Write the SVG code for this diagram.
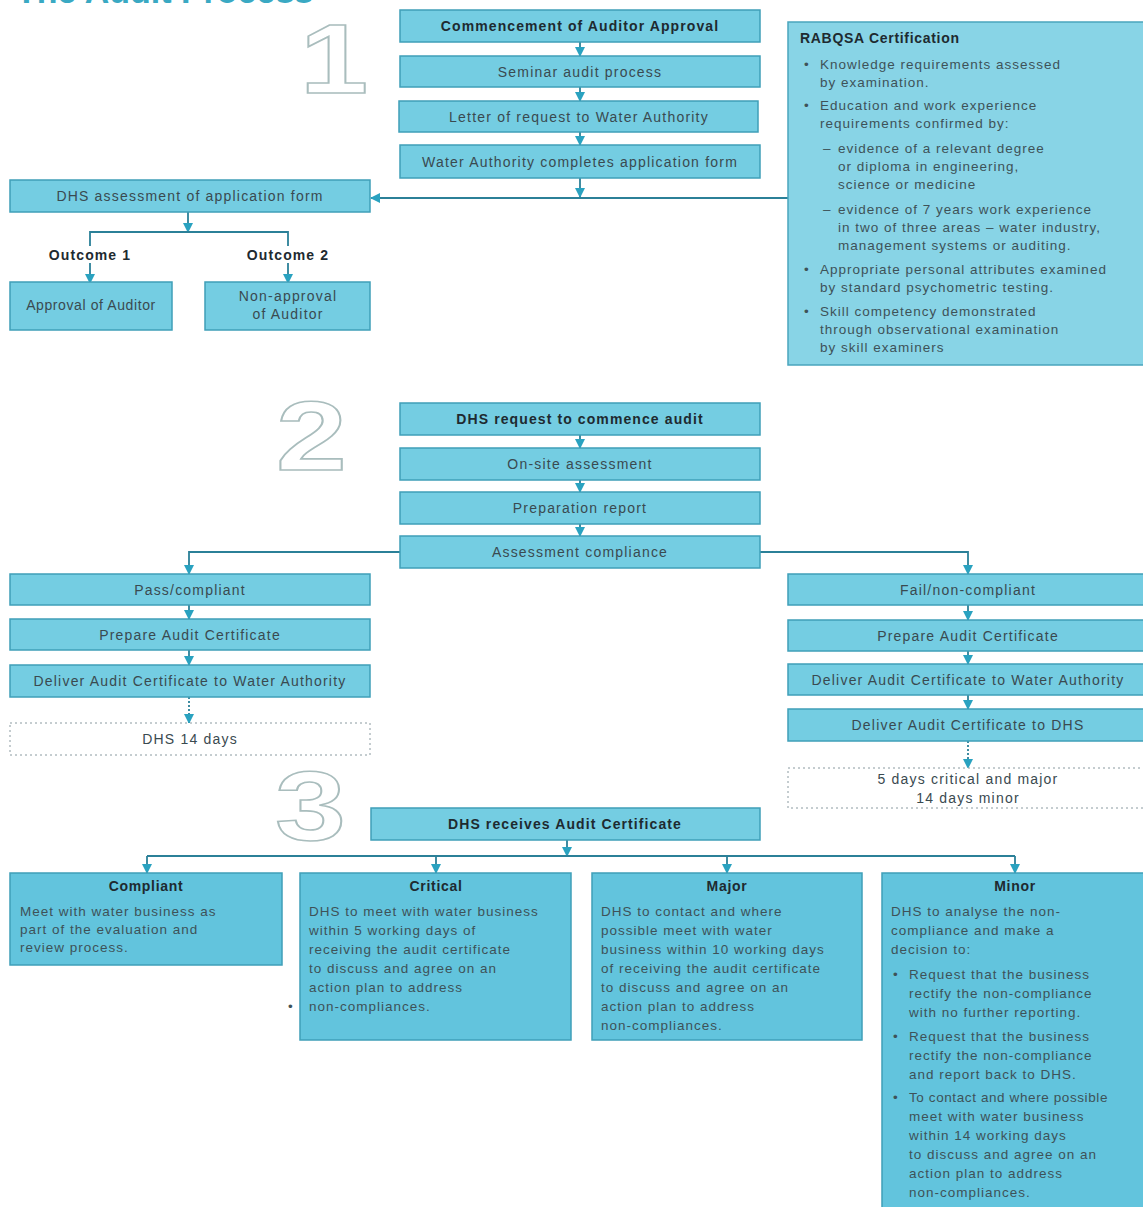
<svg xmlns="http://www.w3.org/2000/svg" width="1143" height="1207" viewBox="0 0 1143 1207">
<style>
  .bg{fill:#ffffff}
  .box{fill:#74cde2;stroke:#3f9fb8;stroke-width:1.5}
  .box3{fill:#62c4dd;stroke:#3f9fb8;stroke-width:1.5}
  .info{fill:#88d4e6;stroke:#4aa5bd;stroke-width:1.5}
  .note{fill:#ffffff;stroke:#8a9aa0;stroke-width:1;stroke-dasharray:2 3}
  .lbl{font-family:"Liberation Sans",Arial,sans-serif;font-size:14px;fill:#3a4a50;letter-spacing:1.2px;text-anchor:middle}
  .bold{font-weight:bold;fill:#1e2a30;letter-spacing:1.1px}
  .txt{font-family:"Liberation Sans",Arial,sans-serif;font-size:13.5px;fill:#3e5258;letter-spacing:1px}
  .hd{font-family:"Liberation Sans",Arial,sans-serif;font-size:14px;font-weight:bold;fill:#1e2a30;letter-spacing:0.7px}
  .num{font-family:"Liberation Sans",Arial,sans-serif;font-size:98px;font-weight:bold;fill:#ffffff;stroke:#a9bdbd;stroke-width:1.6}
  .title{font-family:"Liberation Sans",Arial,sans-serif;font-size:34px;font-weight:bold;fill:#3aa9c3}
  .line{fill:none;stroke:#2b8098;stroke-width:1.8}
  .arr{fill:none;stroke:#2b8098;stroke-width:1.8;marker-end:url(#ah)}
  .dot{fill:none;stroke:#2b8098;stroke-width:1.8;stroke-dasharray:2 2;marker-end:url(#ah)}
</style>
<defs>
  <marker id="ah" markerUnits="userSpaceOnUse" markerWidth="10" markerHeight="10" refX="9" refY="5" orient="auto">
    <path d="M0,0 L10,5 L0,10 z" fill="#2aa2c0"/>
  </marker>
</defs>
<rect class="bg" x="0" y="0" width="1143" height="1207"/>
<text class="title" x="16" y="3">The Audit Process</text>
<text class="num" transform="translate(300,93) scale(1.25,1)" x="0" y="0">1</text>
<text class="num" transform="translate(276,470) scale(1.3,1)" x="0" y="0">2</text>
<text class="num" transform="translate(275,840) scale(1.3,1)" x="0" y="0">3</text>

<g id="connectors">
  <line class="arr" x1="580" y1="42" x2="580" y2="56"/>
  <line class="arr" x1="580" y1="87" x2="580" y2="101"/>
  <line class="arr" x1="580" y1="132" x2="580" y2="145"/>
  <line class="arr" x1="580" y1="178" x2="580" y2="197"/>
  <line class="arr" x1="790" y1="198" x2="371" y2="198"/>
  <line class="arr" x1="188" y1="212" x2="188" y2="232"/>
  <polyline class="line" points="90,246 90,232 288,232 288,246"/>
  <line class="arr" x1="90" y1="263" x2="90" y2="283"/>
  <line class="arr" x1="288" y1="263" x2="288" y2="283"/>

  <line class="arr" x1="580" y1="435" x2="580" y2="448"/>
  <line class="arr" x1="580" y1="480" x2="580" y2="492"/>
  <line class="arr" x1="580" y1="524" x2="580" y2="536"/>
  <polyline class="arr" points="400,552 189,552 189,574"/>
  <polyline class="arr" points="760,552 968,552 968,574"/>
  <line class="arr" x1="189" y1="605" x2="189" y2="619"/>
  <line class="arr" x1="189" y1="650" x2="189" y2="665"/>
  <line class="dot" x1="189" y1="697" x2="189" y2="723"/>
  <line class="arr" x1="968" y1="605" x2="968" y2="620"/>
  <line class="arr" x1="968" y1="651" x2="968" y2="664"/>
  <line class="arr" x1="968" y1="695" x2="968" y2="709"/>
  <line class="dot" x1="968" y1="741" x2="968" y2="768"/>

  <line class="arr" x1="567" y1="840" x2="567" y2="856"/>
  <line class="line" x1="147" y1="856" x2="1015" y2="856"/>
  <line class="arr" x1="147" y1="856" x2="147" y2="873"/>
  <line class="arr" x1="436" y1="856" x2="436" y2="873"/>
  <line class="arr" x1="727" y1="856" x2="727" y2="873"/>
  <line class="arr" x1="1015" y1="856" x2="1015" y2="873"/>
</g>

<g id="n-commence"><rect class="box" x="400" y="10" width="360" height="32"/><text class="lbl bold" x="580" y="31">Commencement of Auditor Approval</text></g>
<g id="n-seminar"><rect class="box" x="400" y="56" width="360" height="31"/><text class="lbl" x="580" y="77">Seminar audit process</text></g>
<g id="n-letter"><rect class="box" x="399" y="101" width="359" height="31"/><text class="lbl" x="579" y="122">Letter of request to Water Authority</text></g>
<g id="n-wa-completes"><rect class="box" x="400" y="145" width="360" height="33"/><text class="lbl" x="580" y="167">Water Authority completes application form</text></g>
<g id="n-rabqsa">
  <rect class="info" x="788" y="22" width="360" height="343"/>
  <text class="hd" x="800" y="43">RABQSA Certification</text>
  <g class="txt">
    <text x="804" y="69">•</text><text x="820" y="69">Knowledge requirements assessed</text>
    <text x="820" y="87">by examination.</text>
    <text x="804" y="110">•</text><text x="820" y="110">Education and work experience</text>
    <text x="820" y="128">requirements confirmed by:</text>
    <text x="823" y="153">–</text><text x="838" y="153">evidence of a relevant degree</text>
    <text x="838" y="171">or diploma in engineering,</text>
    <text x="838" y="189">science or medicine</text>
    <text x="823" y="214">–</text><text x="838" y="214">evidence of 7 years work experience</text>
    <text x="838" y="232">in two of three areas – water industry,</text>
    <text x="838" y="250">management systems or auditing.</text>
    <text x="804" y="274">•</text><text x="820" y="274">Appropriate personal attributes examined</text>
    <text x="820" y="292">by standard psychometric testing.</text>
    <text x="804" y="316">•</text><text x="820" y="316">Skill competency demonstrated</text>
    <text x="820" y="334">through observational examination</text>
    <text x="820" y="352">by skill examiners</text>
  </g>
</g>
<g id="n-dhs-assess"><rect class="box" x="10" y="180" width="360" height="32"/><text class="lbl" x="190" y="201">DHS assessment of application form</text></g>
<g id="n-outcome1"><text class="lbl bold" x="90" y="260">Outcome 1</text></g>
<g id="n-outcome2"><text class="lbl bold" x="288" y="260">Outcome 2</text></g>
<g id="n-approval"><rect class="box" x="10" y="282" width="162" height="48"/><text class="lbl" x="91" y="310" style="letter-spacing:0.6px">Approval of Auditor</text></g>
<g id="n-nonapproval"><rect class="box" x="205" y="282" width="165" height="48"/><text class="lbl" x="288" y="301">Non-approval</text><text class="lbl" x="288" y="319">of Auditor</text></g>

<g id="n-dhs-request"><rect class="box" x="400" y="403" width="360" height="32"/><text class="lbl bold" x="580" y="424">DHS request to commence audit</text></g>
<g id="n-onsite"><rect class="box" x="400" y="448" width="360" height="32"/><text class="lbl" x="580" y="469">On-site assessment</text></g>
<g id="n-prep-report"><rect class="box" x="400" y="492" width="360" height="32"/><text class="lbl" x="580" y="513">Preparation report</text></g>
<g id="n-assess-comp"><rect class="box" x="400" y="536" width="360" height="32"/><text class="lbl" x="580" y="557">Assessment compliance</text></g>

<g id="n-pass"><rect class="box" x="10" y="574" width="360" height="31"/><text class="lbl" x="190" y="595">Pass/compliant</text></g>
<g id="n-prep-cert-l"><rect class="box" x="10" y="619" width="360" height="31"/><text class="lbl" x="190" y="640">Prepare Audit Certificate</text></g>
<g id="n-deliver-wa-l"><rect class="box" x="10" y="665" width="360" height="32"/><text class="lbl" x="190" y="686">Deliver Audit Certificate to Water Authority</text></g>
<g id="n-dhs14"><rect class="note" x="10" y="723" width="360" height="32"/><text class="lbl" x="190" y="744">DHS 14 days</text></g>

<g id="n-fail"><rect class="box" x="788" y="574" width="360" height="31"/><text class="lbl" x="968" y="595">Fail/non-compliant</text></g>
<g id="n-prep-cert-r"><rect class="box" x="788" y="620" width="360" height="31"/><text class="lbl" x="968" y="641">Prepare Audit Certificate</text></g>
<g id="n-deliver-wa-r"><rect class="box" x="788" y="664" width="360" height="31"/><text class="lbl" x="968" y="685">Deliver Audit Certificate to Water Authority</text></g>
<g id="n-deliver-dhs"><rect class="box" x="788" y="709" width="360" height="32"/><text class="lbl" x="968" y="730">Deliver Audit Certificate to DHS</text></g>
<g id="n-5days"><rect class="note" x="788" y="768" width="360" height="40"/><text class="lbl" x="968" y="784">5 days critical and major</text><text class="lbl" x="968" y="803">14 days minor</text></g>

<g id="n-dhs-receives"><rect class="box" x="371" y="808" width="389" height="32"/><text class="lbl bold" x="565" y="829">DHS receives Audit Certificate</text></g>

<g id="n-compliant">
  <rect class="box3" x="10" y="873" width="272" height="92"/>
  <text class="hd" x="146" y="891" text-anchor="middle">Compliant</text>
  <g class="txt"><text x="20" y="916">Meet with water business as</text><text x="20" y="934">part of the evaluation and</text><text x="20" y="952">review process.</text></g>
</g>
<g id="n-critical">
  <rect class="box3" x="300" y="873" width="271" height="167"/>
  <text class="hd" x="436" y="891" text-anchor="middle">Critical</text>
  <g class="txt"><text x="309" y="916">DHS to meet with water business</text><text x="309" y="935">within 5 working days of</text><text x="309" y="954">receiving the audit certificate</text><text x="309" y="973">to discuss and agree on an</text><text x="309" y="992">action plan to address</text><text x="309" y="1011">non-compliances.</text><text x="288" y="1011">•</text></g>
</g>
<g id="n-major">
  <rect class="box3" x="592" y="873" width="270" height="167"/>
  <text class="hd" x="727" y="891" text-anchor="middle">Major</text>
  <g class="txt"><text x="601" y="916">DHS to contact and where</text><text x="601" y="935">possible meet with water</text><text x="601" y="954">business within 10 working days</text><text x="601" y="973">of receiving the audit certificate</text><text x="601" y="992">to discuss and agree on an</text><text x="601" y="1011">action plan to address</text><text x="601" y="1030">non-compliances.</text></g>
</g>
<g id="n-minor">
  <rect class="box3" x="882" y="873" width="266" height="340"/>
  <text class="hd" x="1015" y="891" text-anchor="middle">Minor</text>
  <g class="txt">
    <text x="891" y="916">DHS to analyse the non-</text><text x="891" y="935">compliance and make a</text><text x="891" y="954">decision to:</text>
    <text x="893" y="979">•</text><text x="909" y="979">Request that the business</text><text x="909" y="998">rectify the non-compliance</text><text x="909" y="1017">with no further reporting.</text>
    <text x="893" y="1041">•</text><text x="909" y="1041">Request that the business</text><text x="909" y="1060">rectify the non-compliance</text><text x="909" y="1079">and report back to DHS.</text>
    <text x="893" y="1102">•</text><text x="909" y="1102" style="letter-spacing:0.6px">To contact and where possible</text><text x="909" y="1121">meet with water business</text><text x="909" y="1140">within 14 working days</text><text x="909" y="1159">to discuss and agree on an</text><text x="909" y="1178">action plan to address</text><text x="909" y="1197">non-compliances.</text>
  </g>
</g>
</svg>
